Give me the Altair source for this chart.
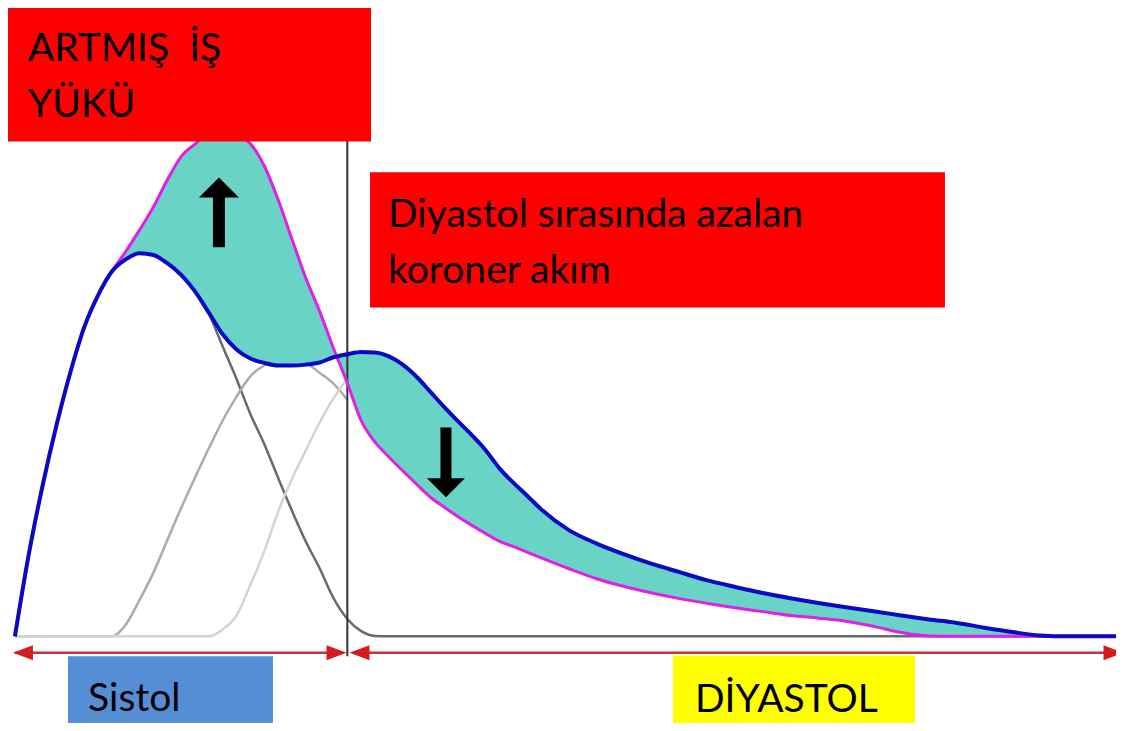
import altair as alt
import pandas as pd

# ---------------- data (time in ms, flow in arbitrary units) ----------------
time_ms = [0, 10, 20, 30, 40, 50, 60, 70, 80, 90, 100, 110, 120, 130, 140, 150, 160,
           170, 180, 190, 200, 210, 220, 230, 240, 250, 260, 270, 280, 290, 300, 310,
           320, 330, 340, 350, 360, 370, 380, 400, 420, 440, 460, 480, 500, 520, 540,
           560, 580, 600, 620, 640, 660, 680, 700, 720, 740, 760, 780, 795]
normal_flow = [0, 18.9, 34.8, 48.7, 60.9, 71.3, 78.7, 84.2, 87.0, 88.4, 88.0, 86.1, 83.4,
               79.6, 74.7, 69.7, 66.2, 64.1, 63.1, 62.5, 62.5, 62.7, 63.2, 64.4, 65.1,
               65.6, 65.5, 64.6, 62.7, 59.9, 56.4, 52.9, 49.6, 46.4, 42.9, 38.7, 35.4,
               32.4, 29.3, 24.5, 21.4, 18.9, 16.7, 14.8, 12.9, 11.4, 10.0, 8.8, 7.7, 6.7,
               5.8, 4.8, 3.9, 3.1, 2.0, 1.0, 0.2, 0, 0, 0]
increased_load_flow = [0, 18.9, 34.8, 48.7, 60.9, 71.3, 78.7, 84.2, 88.8, 93.8, 99.1, 105.3,
                       110.7, 113.6, 116.1, 116.8, 115.6, 113.7, 108.6, 100.8, 91.7, 82.7,
                       75.0, 66.5, 58.4, 49.8, 44.8, 41.4, 38.2, 35.1, 32.1, 29.8, 27.6,
                       25.6, 23.7, 21.9, 20.7, 19.4, 18.1, 15.6, 13.3, 11.5, 10.0, 8.7,
                       7.6, 6.6, 5.7, 4.8, 4.2, 3.5, 2.3, 0.9, 0.1, 0, 0, 0, 0, 0, 0, 0]

# component curves (grey)
comp1_t = [140, 150, 160, 170, 180, 190, 200, 210, 220, 230, 240, 250, 260, 270, 795]
comp1_f = [74.7, 66.9, 59.4, 51.3, 44.4, 36.6, 29.0, 21.9, 15.7, 8.8, 4.0, 1.2, 0.1, 0, 0]
comp2_t = [0, 70, 80, 90, 100, 110, 120, 130, 140, 150, 160, 170, 180, 190, 200, 210,
           220, 230, 240]
comp2_f = [0, 0, 2.7, 8.4, 14.7, 22.2, 29.6, 36.6, 43.4, 49.8, 55.3, 60.0, 62.5, 63.4,
           63.4, 63.0, 60.8, 58.3, 54.6]
comp3_t = [0, 140, 150, 160, 170, 180, 190, 200, 210, 220, 230, 240, 250]
comp3_f = [0, 0, 1.6, 4.8, 11.9, 19.6, 28.7, 36.3, 42.9, 49.3, 54.9, 59.4, 62.8]

# phase boundary
systole_end = 240

# labels (non-breaking space keeps the double gap)
box_labels = ["ARTMIŞ \u00a0İŞ\nYÜKÜ", "Diyastol sırasında azalan\nkoroner akım",
              "Sistol", "DİYASTOL"]

# ---------------- chart ----------------
XS = alt.Scale(domain=[-5, 795], nice=False, zero=False)
YS = alt.Scale(domain=[-20, 145], nice=False, zero=False)


def X(f):
    return alt.X(f"{f}:Q", scale=XS, axis=None)


def Y(f):
    return alt.Y(f"{f}:Q", scale=YS, axis=None)


flow = pd.DataFrame({"t": time_ms, "normal": normal_flow, "load": increased_load_flow})
comps = pd.concat([
    pd.DataFrame({"t": comp1_t, "f": comp1_f, "c": "c1"}),
    pd.DataFrame({"t": comp2_t, "f": comp2_f, "c": "c2"}),
    pd.DataFrame({"t": comp3_t, "f": comp3_f, "c": "c3"}),
])

grey = alt.Chart(comps).mark_line(interpolate="monotone", strokeWidth=2.5).encode(
    x=X("t"), y=Y("f"),
    color=alt.Color("c:N", scale=alt.Scale(domain=["c1", "c2", "c3"],
                                           range=["#6a6a6a", "#ababab", "#d4d4d4"]),
                    legend=None),
    detail="c:N",
)

area = alt.Chart(flow).mark_area(interpolate="monotone", color="#69d3c5").encode(
    x=X("t"), y=Y("normal"), y2="load:Q"
)

vline = alt.Chart(pd.DataFrame({"t": [systole_end], "a": [-4.6], "b": [120]})).mark_rule(
    color="#333333", strokeWidth=2).encode(x=X("t"), y=Y("a"), y2="b:Q")

magenta = alt.Chart(flow).mark_line(interpolate="monotone", color="#e020e6",
                                    strokeWidth=3).encode(x=X("t"), y=Y("load"))
blue = alt.Chart(flow).mark_line(interpolate="monotone", color="#0a0ac4",
                                 strokeWidth=4).encode(x=X("t"), y=Y("normal"))

# phase arrows (red)
phase = pd.DataFrame({"a": [0, 244], "b": [237, 795], "y": [-3.8, -3.8]})
phase_lines = alt.Chart(phase).mark_rule(color="#b83a3a", strokeWidth=2.5).encode(
    x=X("a"), x2="b:Q", y=Y("y"))
heads = pd.DataFrame({"t": [5.8, 248.8, 232.2, 793.2], "y": [-3.8] * 4,
                      "dir": ["l", "l", "r", "r"]})
head_l = alt.Chart(heads[heads.dir == "l"]).mark_point(
    shape="M-1,0L1,-0.75L1,0.75Z", filled=True, size=400, color="#d41c1c", opacity=1
).encode(x=X("t"), y=Y("y"))
head_r = alt.Chart(heads[heads.dir == "r"]).mark_point(
    shape="M1,0L-1,-0.75L-1,0.75Z", filled=True, size=400, color="#d41c1c", opacity=1
).encode(x=X("t"), y=Y("y"))

# black change arrows
shafts = pd.DataFrame({"t": [147.3, 311.2], "a": [89.8, 48.2], "b": [102, 36]})
shaft_up = alt.Chart(shafts.iloc[[0]]).mark_rule(color="black", strokeWidth=12).encode(
    x=X("t"), y=Y("a"), y2="b:Q")
shaft_dn = alt.Chart(shafts.iloc[[1]]).mark_rule(color="black", strokeWidth=11).encode(
    x=X("t"), y=Y("a"), y2="b:Q")
up_head = alt.Chart(pd.DataFrame({"t": [147.3], "y": [103.6]})).mark_point(
    shape="M0,-0.5L1,0.5L-1,0.5Z", filled=True, size=1600, color="black", opacity=1
).encode(x=X("t"), y=Y("y"))
dn_head = alt.Chart(pd.DataFrame({"t": [311.2], "y": [34.3]})).mark_point(
    shape="M0,0.5L1,-0.5L-1,-0.5Z", filled=True, size=1444, color="black", opacity=1
).encode(x=X("t"), y=Y("y"))

# label boxes
boxes = pd.DataFrame({
    "x": [-5, 256.4, 38.3, 475.1],
    "x2": [257.1, 671.5, 186.3, 649.9],
    "y": [145.5, 107.1, -4.6, -4.4],
    "y2": [114.2, 75.9, -22, -22],
    "fill": ["#ff0000", "#ff0000", "#558ed5", "#ffff00"],
})
rects = alt.Chart(boxes).mark_rect().encode(
    x=X("x"), x2="x2:Q", y=Y("y"), y2="y2:Q", color=alt.Color("fill:N", scale=None))

texts = pd.DataFrame({
    "x": [9.4, 269.4, 52.8, 491.0],
    "y": [132.7, 94.4, -17.3, -17.5],
    "label": box_labels,
})
labels = alt.Chart(texts).mark_text(
    align="left", baseline="alphabetic", font="Lato", fontSize=39, lineBreak="\n",
    lineHeight=56, color="black"
).encode(x=X("x"), y=Y("y"), text="label:N")

chart = alt.layer(
    grey, area, vline, magenta, blue, phase_lines, head_l, head_r,
    shaft_up, shaft_dn, up_head, dn_head, rects, labels
).properties(
    width=1108, height=715, padding=0,
    autosize=alt.AutoSizeParams(type="none"),
    background="white",
).configure_view(stroke=None)

chart.save("out.html", embed_options={"renderer": "svg", "actions": False})
